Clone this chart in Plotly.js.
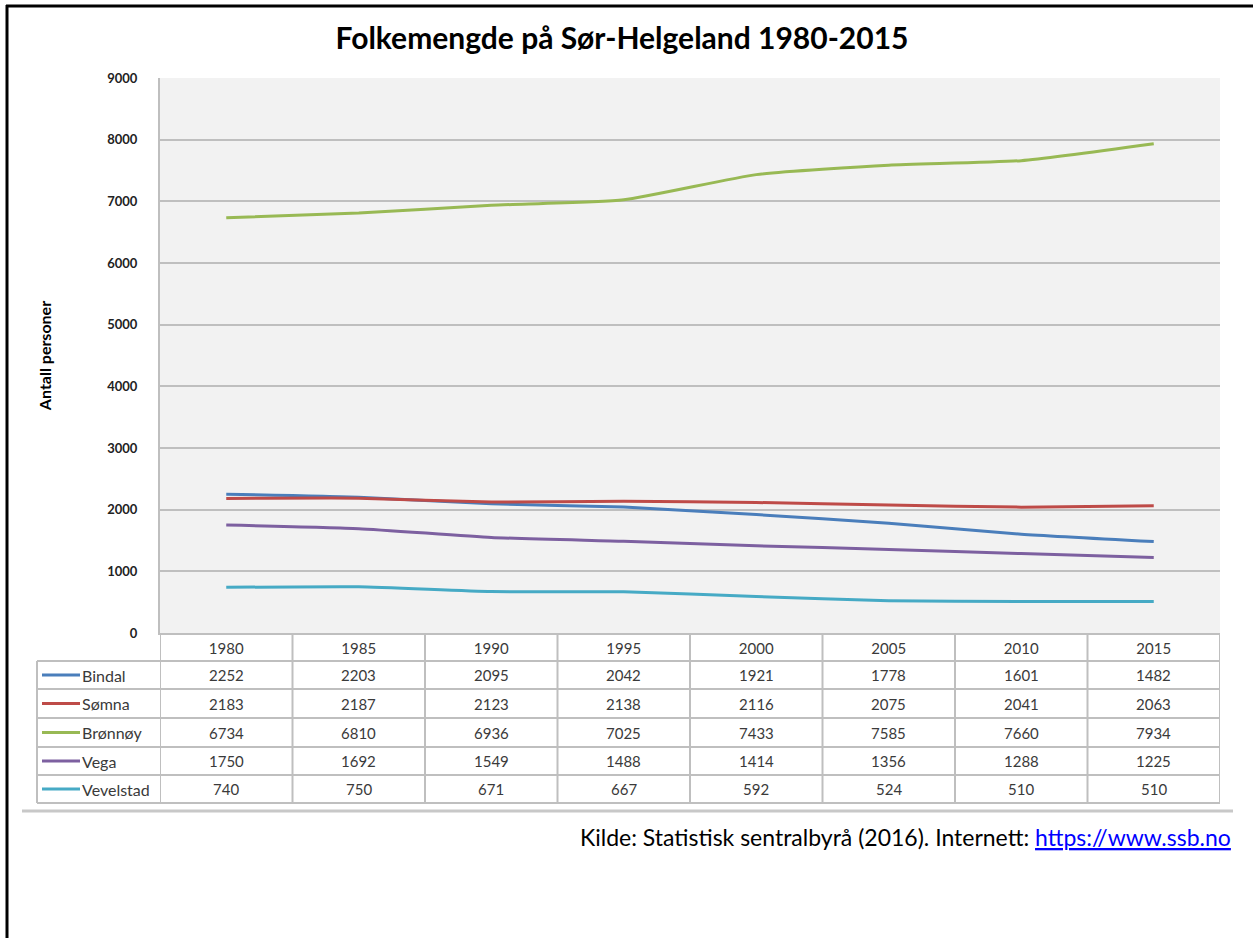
<!DOCTYPE html>
<html>
<head>
<meta charset="utf-8">
<script src="https://cdn.plot.ly/plotly-3.0.1.min.js"></script>
<style>
  html, body { margin: 0; padding: 0; background: #fff; }
  #chart { width: 1253px; height: 938px; }
</style>
</head>
<body>
<div id="chart"></div>
<script>
// ---- data ----
const years = ["1980", "1985", "1990", "1995", "2000", "2005", "2010", "2015"];
const seriesNames = ["Bindal", "Sømna", "Brønnøy", "Vega", "Vevelstad"];
const bindal    = [2252, 2203, 2095, 2042, 1921, 1778, 1601, 1482];
const somna     = [2183, 2187, 2123, 2138, 2116, 2075, 2041, 2063];
const bronnoy   = [6734, 6810, 6936, 7025, 7433, 7585, 7660, 7934];
const vega      = [1750, 1692, 1549, 1488, 1414, 1356, 1288, 1225];
const vevelstad = [740, 750, 671, 667, 592, 524, 510, 510];
const seriesValues = [bindal, somna, bronnoy, vega, vevelstad];
const seriesColors = ["#4a7ebb", "#be4b48", "#98b954", "#7d60a0", "#46aac5"];
const yTicks = [0, 1000, 2000, 3000, 4000, 5000, 6000, 7000, 8000, 9000];

// ---- geometry helpers (page px -> paper) ----
const W = 1253, H = 938;
const M = { l: 160, r: 33, t: 78, b: 305 };
const PW = W - M.l - M.r, PH = H - M.t - M.b;
const px = v => (v - M.l) / PW;
const py = v => (H - M.b - v) / PH;

const FONT = "Lato, 'Open Sans', sans-serif";
const TXT = "#3a3a3a";
const GRID = "#bfbfbf";

const traces = seriesNames.map((name, i) => ({
  type: "scatter",
  mode: "lines",
  name: name,
  x: years,
  y: seriesValues[i],
  line: { color: seriesColors[i], width: 3, shape: "spline", smoothing: 0.5 },
  hoverinfo: "x+y+name"
}));

// Table geometry
const rowEdges = [633, 661, 689, 718, 747, 775, 803];
const tableLeft = 37;
const shapes = [];
const annotations = [];

// horizontal table lines (below header)
for (let r = 1; r < rowEdges.length; r++) {
  shapes.push({ type: "line", xref: "paper", yref: "paper",
    x0: px(tableLeft), x1: 1, y0: py(rowEdges[r]), y1: py(rowEdges[r]),
    line: { color: GRID, width: 2 } });
}
// vertical table lines at category boundaries
for (let i = 0; i <= years.length; i++) {
  shapes.push({ type: "line", xref: "x", yref: "paper",
    x0: i - 0.5, x1: i - 0.5, y0: py(rowEdges[0]), y1: py(rowEdges[rowEdges.length - 1]),
    line: { color: GRID, width: 2 } });
}
// left edge of label column
shapes.push({ type: "line", xref: "paper", yref: "paper",
  x0: px(tableLeft), x1: px(tableLeft), y0: py(rowEdges[1]), y1: py(rowEdges[rowEdges.length - 1]),
  line: { color: GRID, width: 2 } });

// rows: legend key, label, values
seriesNames.forEach((name, r) => {
  const yc = py((rowEdges[r + 1] + rowEdges[r + 2]) / 2);
  shapes.push({ type: "line", xref: "paper", yref: "paper",
    x0: px(42), x1: px(80), y0: yc, y1: yc,
    line: { color: seriesColors[r], width: 3 } });
  annotations.push({ xref: "paper", yref: "paper", x: px(80), y: yc,
    xanchor: "left", yanchor: "middle", showarrow: false, text: name,
    font: { family: FONT, size: 16, color: TXT } });
  seriesValues[r].forEach((v, c) => {
    annotations.push({ xref: "x", yref: "paper", x: c, y: yc,
      xanchor: "center", yanchor: "middle", showarrow: false, text: String(v),
      font: { family: FONT, size: 15, color: TXT } });
  });
});

// bottom grey rule of chart area
shapes.push({ type: "line", xref: "paper", yref: "paper",
  x0: px(22), x1: px(1233), y0: py(811), y1: py(811),
  line: { color: "#c8c8c8", width: 3 } });

// outer black frame (top + left)
shapes.push({ type: "line", xref: "paper", yref: "paper",
  x0: px(6), x1: px(1253), y0: py(6), y1: py(6),
  line: { color: "#000", width: 3 } });
shapes.push({ type: "line", xref: "paper", yref: "paper",
  x0: px(7), x1: px(7), y0: py(5), y1: py(938),
  line: { color: "#000", width: 3 } });

// source footnote
annotations.push({ xref: "paper", yref: "paper", x: px(1233), y: py(837),
  xanchor: "right", yanchor: "middle", showarrow: false,
  text: 'Kilde: Statistisk sentralbyrå (2016). Internett: <a href="https://www.ssb.no"><span style="color:#0000ff"><u>https://www.ssb.no</u></span></a>',
  font: { family: FONT, size: 23, color: "#000" } });

const layout = {
  width: W, height: H,
  margin: M,
  paper_bgcolor: "#ffffff",
  plot_bgcolor: "#f2f2f2",
  showlegend: false,
  title: {
    text: "Folkemengde på Sør-Helgeland 1980-2015",
    xref: "container", yref: "container",
    x: 622 / W, y: 1 - 38 / H, xanchor: "center", yanchor: "middle",
    font: { family: FONT, size: 30, color: "#000", weight: 700 }
  },
  xaxis: {
    type: "category",
    range: [-0.5, years.length - 0.5],
    showgrid: false, zeroline: false,
    showline: true, linecolor: GRID, linewidth: 2,
    ticks: "", ticklabelstandoff: 1,
    tickfont: { family: FONT, size: 15, color: TXT },
    fixedrange: true
  },
  yaxis: {
    range: [0, 9000],
    tickvals: yTicks,
    ticktext: yTicks.map(String),
    showgrid: true, gridcolor: GRID, gridwidth: 2,
    zeroline: false,
    showline: true, linecolor: GRID, linewidth: 2,
    ticks: "", ticklabelstandoff: 18,
    tickfont: { family: FONT, size: 13, color: "#222", weight: 700 },
    title: { text: "Antall personer", standoff: 52,
      font: { family: FONT, size: 16, color: "#000", weight: 700 } },
    fixedrange: true
  },
  shapes: shapes,
  annotations: annotations
};

Plotly.newPlot("chart", traces, layout, { displayModeBar: false, responsive: false });
</script>
</body>
</html>
